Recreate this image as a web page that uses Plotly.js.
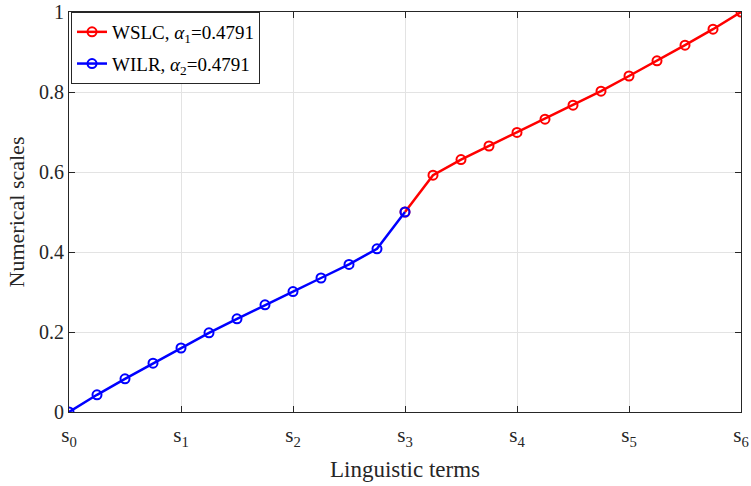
<!DOCTYPE html>
<html>
<head>
<meta charset="utf-8">
<script src="https://cdn.plot.ly/plotly-3.0.1.min.js"></script>
<style>html,body{margin:0;padding:0;background:#fff;}#chart{width:751px;height:486px;}</style>
</head>
<body>
<div id="chart"></div>
<script>
// Data
const xBlue = [0, 0.25, 0.5, 0.75, 1, 1.25, 1.5, 1.75, 2, 2.25, 2.5, 2.75, 3];
const yBlue = [0, 0.043, 0.083, 0.122, 0.160, 0.198, 0.233, 0.268, 0.301, 0.335, 0.369, 0.408, 0.5];
const xRed = [3, 3.25, 3.5, 3.75, 4, 4.25, 4.5, 4.75, 5, 5.25, 5.5, 5.75, 6];
const yRed = [0.5, 0.592, 0.631, 0.665, 0.699, 0.732, 0.767, 0.802, 0.840, 0.878, 0.917, 0.957, 1.0];
const tickVals = [0, 1, 2, 3, 4, 5, 6];
const tickText = ['s<sub>0</sub>', 's<sub>1</sub>', 's<sub>2</sub>', 's<sub>3</sub>', 's<sub>4</sub>', 's<sub>5</sub>', 's<sub>6</sub>'];
const yTickVals = [0, 0.2, 0.4, 0.6, 0.8, 1];
const yTickText = ['0', '0.2', '0.4', '0.6', '0.8', '1'];
const nameRed = 'WSLC, <i>α</i><sub>1</sub>=0.4791';
const nameBlue = 'WILR, <i>α</i><sub>2</sub>=0.4791';

const font = 'Liberation Serif, Times New Roman, serif';
const axisColor = '#262626';

const traces = [
  {x: xRed, y: yRed, name: nameRed, legendgroup: 'r', type: 'scatter', mode: 'lines+markers',
   line: {color: '#ff0000', width: 2.5},
   marker: {symbol: 'circle-open', size: 9, color: '#ff0000', line: {width: 2, color: '#ff0000'}}},
  {x: xBlue, y: yBlue, name: nameBlue, legendgroup: 'b', type: 'scatter', mode: 'lines+markers',
   line: {color: '#0000ff', width: 2.5},
   marker: {symbol: 'circle-open', size: 9, color: '#0000ff', line: {width: 2, color: '#0000ff'}}}
];

const layout = {
  width: 751, height: 486,
  margin: {l: 69, r: 10, t: 12, b: 74},
  paper_bgcolor: '#fff', plot_bgcolor: '#fff',
  font: {family: font, color: axisColor, size: 18},
  showlegend: true,
  legend: {x: 0.003, y: 1, xanchor: 'left', yanchor: 'top', bgcolor: '#fff',
           bordercolor: '#262626', borderwidth: 1, font: {family: font, size: 19, color: '#000'},
           tracegroupgap: 4, itemwidth: 30},
  xaxis: {range: [0, 6], tickvals: tickVals, ticktext: tickText,
          showgrid: true, gridcolor: '#e3e3e3', gridwidth: 1, zeroline: false,
          showline: true, linecolor: axisColor, linewidth: 1, mirror: 'ticks',
          ticks: 'inside', ticklen: 6, tickcolor: axisColor, ticklabelstandoff: 4,
          tickfont: {family: font, size: 21, color: axisColor},
          title: {text: 'Linguistic terms', font: {family: font, size: 23, color: axisColor}, standoff: 12}},
  yaxis: {range: [0, 1], tickvals: yTickVals, ticktext: yTickText,
          showgrid: true, gridcolor: '#e3e3e3', gridwidth: 1, zeroline: false,
          showline: true, linecolor: axisColor, linewidth: 1, mirror: 'ticks',
          ticks: 'inside', ticklen: 6, tickcolor: axisColor,
          tickfont: {family: font, size: 20, color: axisColor},
          title: {text: 'Numerical scales', font: {family: font, size: 22, color: axisColor}, standoff: 8}}
};

Plotly.newPlot('chart', traces, layout, {displayModeBar: false, staticPlot: true});
</script>
</body>
</html>
